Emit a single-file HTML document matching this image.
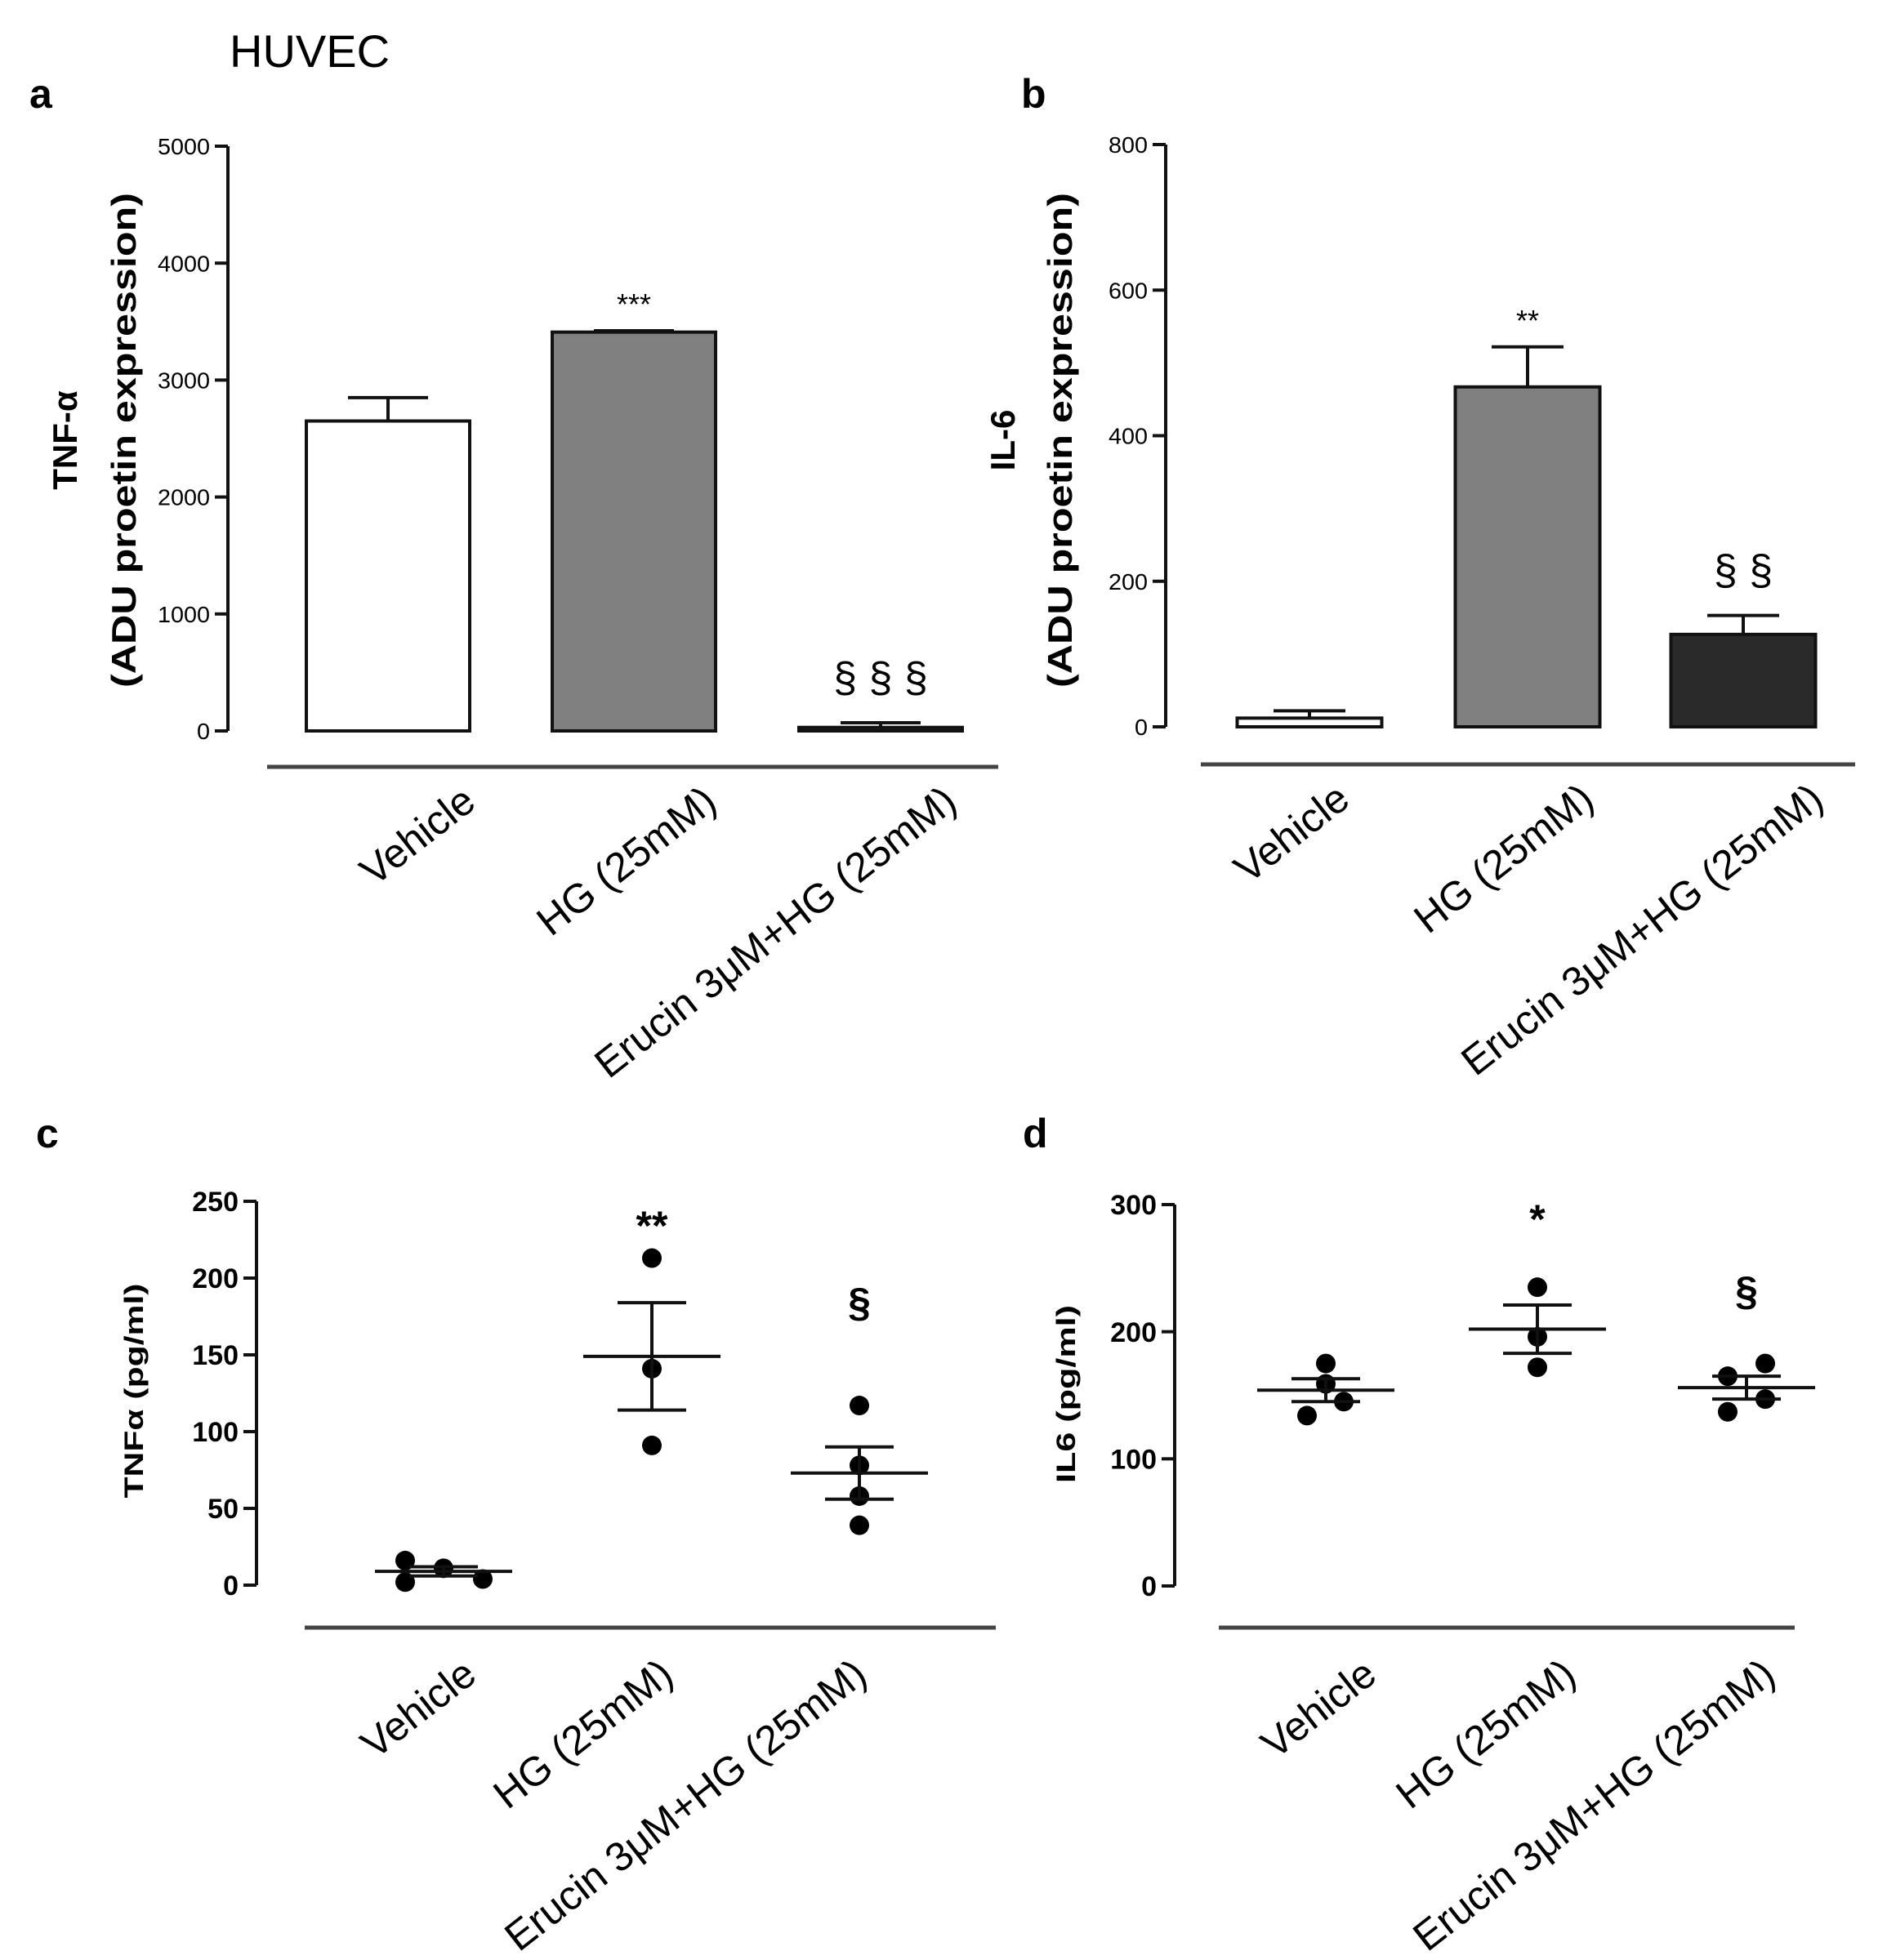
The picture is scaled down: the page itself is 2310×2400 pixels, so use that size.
<!DOCTYPE html>
<html><head><meta charset="utf-8">
<style>
html,body{margin:0;padding:0;background:#fff;}
svg{display:block;}
text{font-family:"Liberation Sans",Arial,sans-serif;fill:#000;}
</style></head>
<body>
<svg id="fig" width="2310" height="2400" viewBox="0 0 2310 2400" xmlns="http://www.w3.org/2000/svg">
<text x="281" y="82" font-size="56">HUVEC</text>
<text x="36" y="132" font-size="50" font-weight="bold">a</text>
<text x="1250" y="132" font-size="50" font-weight="bold">b</text>
<text x="44" y="1405" font-size="50" font-weight="bold">c</text>
<text x="1252" y="1405" font-size="50" font-weight="bold">d</text>
</svg>
<script>
// ----- data -----
const categories = ["Vehicle", "HG (25mM)", "Erucin 3\u03BCM+HG (25mM)"];
// panel a (TNF-alpha western)
const aTicks = [0, 1000, 2000, 3000, 4000, 5000];
const aMeans = [2650, 3410, 30];
const aErr = [200, 12, 40];
const aSig = ["", "***", "\u00A7 \u00A7 \u00A7"];
// panel b (IL-6 western)
const bTicks = [0, 200, 400, 600, 800];
const bMeans = [12, 467, 127];
const bErr = [10, 55, 26];
const bSig = ["", "**", "\u00A7 \u00A7"];
// panel c (TNFa ELISA)
const cTicks = [0, 50, 100, 150, 200, 250];
const cPoints = [[16, 2, 11, 4], [213, 141, 91], [117, 78, 58, 39]];
const cMeans = [9, 149, 73];
const cSem = [3, 35, 17];
const cSig = ["", "**", "\u00A7"];
// panel d (IL6 ELISA)
const dTicks = [0, 100, 200, 300];
const dPoints = [[175, 159, 134, 145], [235, 196, 172], [165, 175, 137, 147]];
const dMeans = [154, 202, 156];
const dSem = [9, 19, 9];
const dSig = ["", "*", "\u00A7"];

// ----- layout (not data) -----
const cJitter = [[-47, -47, 0, 48], [0, 0, 0], [0, 0, 0, 0]];
const dJitter = [[0, 0, -23, 22], [0, 0, 0], [-23, 23, -23, 23]];

const NS = "http://www.w3.org/2000/svg";
const svg = document.getElementById("fig");
function mk(tag, attrs, parent) {
  const e = document.createElementNS(NS, tag);
  for (const k in attrs) e.setAttribute(k, attrs[k]);
  (parent || svg).appendChild(e);
  return e;
}
function scale(d0, d1, r0, r1) { return v => r0 + (v - d0) / (d1 - d0) * (r1 - r0); }

function axis(g, P, ticks, y, tickFont, bold, narrow) {
  const ax = mk("line", {x1: P.axX, x2: P.axX, y1: y(ticks[ticks.length-1]), y2: y(0), stroke: "#111", "stroke-width": 4}, g);
  
  
  ticks.forEach(t => {
    const tk = mk("line", {x1: P.axX - 16, x2: P.axX, y1: y(t), y2: y(t), stroke: "#111", "stroke-width": 4}, g);
    
    
    const attrs = {x: P.axX - 22, y: y(t) + tickFont * 0.36, "font-size": tickFont, "text-anchor": "end"};
    if (bold) attrs["font-weight"] = "bold";
    if (narrow) { attrs.textLength = String(t).length * narrow; attrs.lengthAdjust = "spacingAndGlyphs"; }
    const tl = mk("text", attrs, g);
    tl.textContent = t;
    
    
  });
  const sep = mk("line", {x1: P.sepX1, x2: P.sepX2, y1: P.sepY, y2: P.sepY, stroke: "#444", "stroke-width": 5}, g);
  
  
  categories.forEach((c, i) => {
    const x = P.labX[i], yy = P.sepY + P.labDy;
    const t = mk("text", {x: x, y: yy, "font-size": 50, "text-anchor": "end", transform: `rotate(-38 ${x} ${yy})`}, g);
    t.textContent = c;
    
    
  });
}
function ytitle(g, lines, xs, cy, fs, lens) {
  lines.forEach((s, i) => {
    const attrs = {x: xs[i], y: cy, "font-size": fs, "font-weight": "bold", "text-anchor": "middle", transform: `rotate(-90 ${xs[i]} ${cy})`};
    if (lens && lens[i]) { attrs.textLength = lens[i]; attrs.lengthAdjust = "spacingAndGlyphs"; }
    const t = mk("text", attrs, g);
    t.textContent = s;
    
    
  });
}

function barPanel(name, P, ticks, means, errs, sigs, fills) {
  const g = mk("g", {});
  
  
  const y = scale(0, ticks[ticks.length-1], P.y0, P.yTop);
  axis(g, P, ticks, y, 28, false, 16);
  ytitle(g, P.titles, P.titleX, P.titleY, 42, [null, 606]);
  means.forEach((m, i) => {
    const cx = P.cats[i];
    const top = y(m + errs[i]);
    const eb = mk("line", {x1: cx, x2: cx, y1: y(m), y2: top, stroke: "#111", "stroke-width": 4}, g);
    
    
    const cap = mk("line", {x1: cx - P.cap, x2: cx + P.cap, y1: top, y2: top, stroke: "#111", "stroke-width": 4}, g);
    
    
    const r = mk("rect", {x: cx - P.bw/2, y: y(m), width: P.bw, height: Math.max(y(0) - y(m), 1), fill: fills[i], stroke: "#111", "stroke-width": 4}, g);
    
    
    if (sigs[i]) {
      const big = sigs[i].indexOf("\u00A7") >= 0;
      const s = mk("text", {x: cx, y: big ? top - 38 : top - 20, "font-size": big ? 52 : 36, "text-anchor": "middle"}, g);
      s.textContent = sigs[i];
      
      
    }
  });
}

function dotPanel(name, P, ticks, points, jitter, means, sems, sigs, title, sigYs) {
  const g = mk("g", {});
  
  
  const y = scale(0, ticks[ticks.length-1], P.y0, P.yTop);
  axis(g, P, ticks, y, 34, true, 0);
  ytitle(g, [title], [P.titleX], P.titleY, 32, [P.titleLen]);
  means.forEach((m, i) => {
    const cx = P.cats[i];
    points[i].forEach((v, j) => {
      const c = mk("circle", {cx: cx + jitter[i][j], cy: y(v), r: 12, fill: "#000"}, g);
      
      
    });
    const ml = mk("line", {x1: cx - 84, x2: cx + 84, y1: y(m), y2: y(m), stroke: "#111", "stroke-width": 4}, g);
    
    
    const sv = mk("line", {x1: cx, x2: cx, y1: y(m + sems[i]), y2: y(m - sems[i]), stroke: "#111", "stroke-width": 4}, g);
    
    
    [m + sems[i], m - sems[i]].forEach(v => {
      const cp = mk("line", {x1: cx - 42, x2: cx + 42, y1: y(v), y2: y(v), stroke: "#111", "stroke-width": 4}, g);
      
      
    });
    if (sigs[i]) {
      const s = mk("text", {x: cx, y: sigYs[i], "font-size": 50, "font-weight": "bold", "text-anchor": "middle"}, g);
      s.textContent = sigs[i];
      
      
    }
  });
}

barPanel("panel-a-tnf-bar-chart",
  {axX: 279, y0: 895, yTop: 179, cats: [475, 776, 1078], bw: 200, cap: 49,
   sepX1: 327, sepX2: 1222, sepY: 939, labX: [585, 880, 1174], labDy: 48,
   titles: ["TNF-\u03B1", "(ADU proetin expression)"], titleX: [94, 166], titleY: 539},
  aTicks, aMeans, aErr, aSig, ["#fff", "#808080", "#2a2a2a"]);

barPanel("panel-b-il6-bar-chart",
  {axX: 1427, y0: 890, yTop: 177, cats: [1603, 1870, 2134], bw: 177, cap: 44,
   sepX1: 1470, sepX2: 2271, sepY: 936, labX: [1655, 1954, 2235], labDy: 48,
   titles: ["IL-6", "(ADU proetin expression)"], titleX: [1242, 1312], titleY: 539},
  bTicks, bMeans, bErr, bSig, ["#fff", "#808080", "#2a2a2a"]);

dotPanel("panel-c-tnf-scatter",
  {axX: 314, y0: 1941, yTop: 1471, cats: [543, 798, 1052],
   sepX1: 373, sepX2: 1219, sepY: 1993, labX: [586, 827, 1064], labDy: 63,
   titleX: 175, titleY: 1703, titleLen: 263},
  cTicks, cPoints, cJitter, cMeans, cSem, cSig, "TNF\u03B1 (pg/ml)", [0, 1518, 1612]);

dotPanel("panel-d-il6-scatter",
  {axX: 1438, y0: 1942, yTop: 1475, cats: [1623, 1882, 2138],
   sepX1: 1492, sepX2: 2197, sepY: 1993, labX: [1688, 1932, 2176], labDy: 63,
   titleX: 1316, titleY: 1707, titleLen: 218},
  dTicks, dPoints, dJitter, dMeans, dSem, dSig, "IL6 (pg/ml)", [0, 1510, 1598]);
</script>
</body></html>
